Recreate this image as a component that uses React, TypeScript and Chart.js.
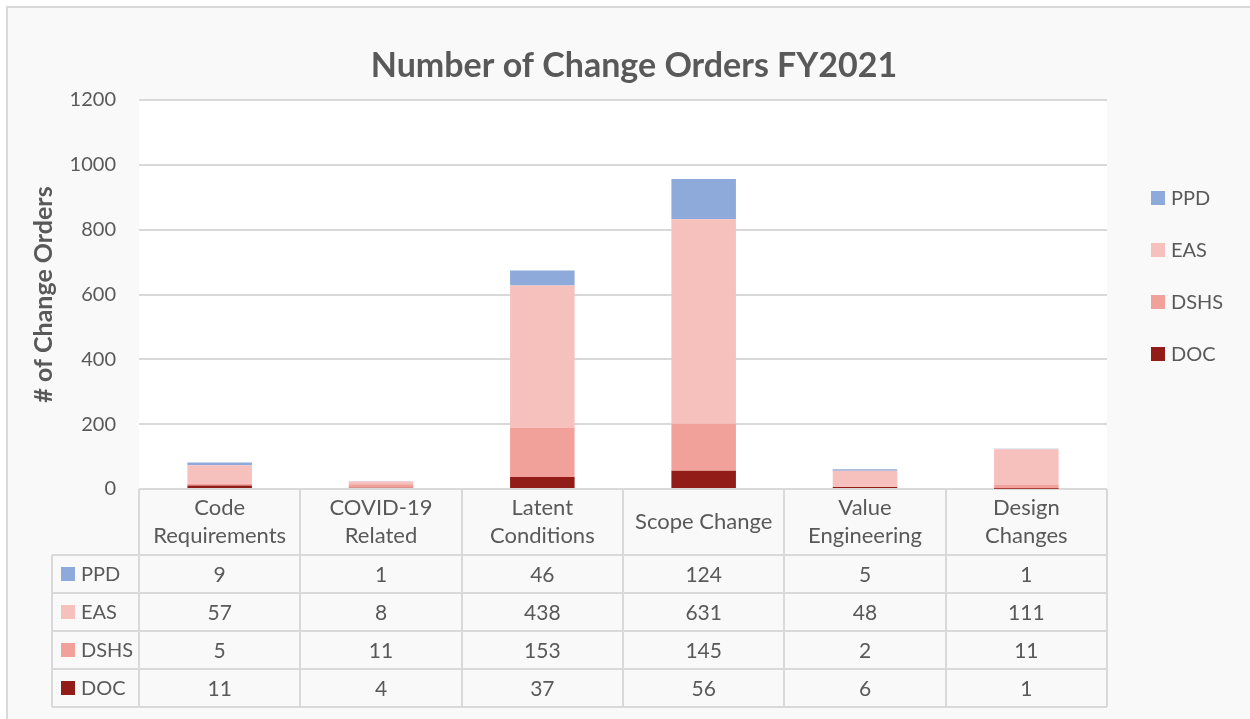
import React, { useEffect, useRef } from "react";
import { Chart, registerables } from "chart.js";

Chart.register(...registerables);

// ---- data ----
const categories: (string | string[])[] = [
  ["Code", "Requirements"],
  ["COVID-19", "Related"],
  ["Latent", "Conditions"],
  "Scope Change",
  ["Value", "Engineering"],
  ["Design", "Changes"],
];
const docValues = [11, 4, 37, 56, 6, 1];
const dshsValues = [5, 11, 153, 145, 2, 11];
const easValues = [57, 8, 438, 631, 48, 111];
const ppdValues = [9, 1, 46, 124, 5, 1];
const yMin = 0;
const yMax = 1200;
const yStep = 200;
const chartTitle = "Number of Change Orders FY2021";
const yAxisTitle = "# of Change Orders";

// ---- style ----
const FONT = "Lato, 'Open Sans', sans-serif";
const TEXT = "#595959";
const LINE = "#d9d9d9";
const COLORS = { PPD: "#8eaadb", EAS: "#f6c0bd", DSHS: "#f1a19a", DOC: "#921c17" };

const W = 1250;
const H = 719;
const ROW_H = 38;

const decorPlugin = {
  id: "decor",
  beforeDraw(chart: any) {
    const { ctx, chartArea } = chart;
    ctx.save();
    ctx.fillStyle = "#ffffff";
    ctx.fillRect(0, 0, W, H);
    ctx.fillStyle = "#f9f9f9";
    ctx.fillRect(6, 6, W - 6, H - 6);
    ctx.strokeStyle = LINE;
    ctx.lineWidth = 2;
    ctx.beginPath();
    ctx.moveTo(7, H);
    ctx.lineTo(7, 7);
    ctx.lineTo(W, 7);
    ctx.stroke();
    ctx.fillStyle = "#ffffff";
    ctx.fillRect(chartArea.left, chartArea.top, chartArea.right - chartArea.left, chartArea.bottom - chartArea.top);
    ctx.restore();
  },
  afterDraw(chart: any) {
    const { ctx, chartArea } = chart;
    const xs = chart.scales.x;
    const n = chart.data.labels.length;
    const colW = (chartArea.right - chartArea.left) / n;
    const dsRev = [...chart.data.datasets].reverse();
    ctx.save();

    // title
    ctx.fillStyle = TEXT;
    ctx.font = `bold 34px ${FONT}`;
    ctx.textAlign = "center";
    ctx.textBaseline = "middle";
    ctx.fillText(chartTitle, 634, 66);

    // right legend
    ctx.font = `20px ${FONT}`;
    ctx.textAlign = "left";
    dsRev.forEach((ds: any, i: number) => {
      const cy = 198 + i * 52;
      ctx.fillStyle = ds.backgroundColor;
      ctx.fillRect(1151, cy - 7, 14, 14);
      ctx.fillStyle = TEXT;
      ctx.fillText(ds.label, 1171, cy + 1);
    });

    // data table
    const headTop = chartArea.bottom;
    const rowsTop = xs.bottom;
    const tableBottom = rowsTop + dsRev.length * ROW_H;
    const keyLeft = 52;
    ctx.strokeStyle = LINE;
    ctx.lineWidth = 2;
    ctx.beginPath();
    for (let i = 0; i <= n; i++) {
      const x = Math.round(xs.getPixelForValue(0) - colW / 2 + i * colW);
      ctx.moveTo(x, headTop);
      ctx.lineTo(x, tableBottom);
    }
    ctx.moveTo(keyLeft, rowsTop);
    ctx.lineTo(keyLeft, tableBottom);
    for (let r = 0; r <= dsRev.length; r++) {
      const y = rowsTop + r * ROW_H;
      ctx.moveTo(keyLeft, y);
      ctx.lineTo(chartArea.right, y);
    }
    ctx.stroke();

    ctx.textBaseline = "middle";
    dsRev.forEach((ds: any, r: number) => {
      const cy = rowsTop + r * ROW_H + ROW_H / 2;
      ctx.fillStyle = ds.backgroundColor;
      ctx.fillRect(61, cy - 7, 14, 14);
      ctx.fillStyle = TEXT;
      ctx.font = `20px ${FONT}`;
      ctx.textAlign = "left";
      ctx.fillText(ds.label, 81, cy + 1);
      ctx.font = `21px ${FONT}`;
      ctx.textAlign = "center";
      ds.data.forEach((v: number, i: number) => {
        ctx.fillText(String(v), xs.getPixelForValue(i), cy + 1);
      });
    });
    ctx.restore();
  },
};

export default function App() {
  const ref = useRef<HTMLCanvasElement | null>(null);
  useEffect(() => {
    if (!ref.current) return;
    const chart = new Chart(ref.current, {
      type: "bar",
      data: {
        labels: categories as any,
        datasets: [
          { label: "DOC", data: docValues, backgroundColor: COLORS.DOC },
          { label: "DSHS", data: dshsValues, backgroundColor: COLORS.DSHS },
          { label: "EAS", data: easValues, backgroundColor: COLORS.EAS },
          { label: "PPD", data: ppdValues, backgroundColor: COLORS.PPD },
        ],
      },
      options: {
        responsive: false,
        animation: false,
        devicePixelRatio: 1,
        layout: { padding: { left: 0, top: 100, right: W - 1107, bottom: H - 555 } },
        datasets: { bar: { categoryPercentage: 1, barPercentage: 0.4, borderWidth: 0 } },
        plugins: {
          legend: { display: false },
          title: { display: false },
          tooltip: { enabled: false },
        },
        scales: {
          x: {
            stacked: true,
            grid: { display: false, drawTicks: false },
            border: { display: false },
            ticks: {
              color: TEXT,
              font: { family: FONT, size: 22, lineHeight: 1.27 },
              padding: 19,
              crossAlign: "center",
              maxRotation: 0,
              autoSkip: false,
            },
            afterFit: (s: any) => {
              s.height = 66;
            },
          },
          y: {
            stacked: true,
            min: yMin,
            max: yMax,
            grid: { color: LINE, lineWidth: 2, drawTicks: false },
            border: { display: false },
            ticks: {
              stepSize: yStep,
              color: TEXT,
              font: { family: FONT, size: 20 },
              padding: 23,
              callback: (v: any) => String(v),
            },
            title: {
              display: true,
              text: yAxisTitle,
              color: TEXT,
              font: { family: FONT, size: 25, weight: "bold" },
              padding: { top: 29, bottom: 0 },
            },
            afterFit: (s: any) => {
              s.width = 139;
            },
          },
        },
      },
      plugins: [decorPlugin],
    });
    return () => chart.destroy();
  }, []);
  return (
    <div style={{ position: "fixed", left: 0, top: 0, width: W, height: H, background: "#fff" }}>
      <canvas ref={ref} width={W} height={H} style={{ display: "block" }} />
    </div>
  );
}
